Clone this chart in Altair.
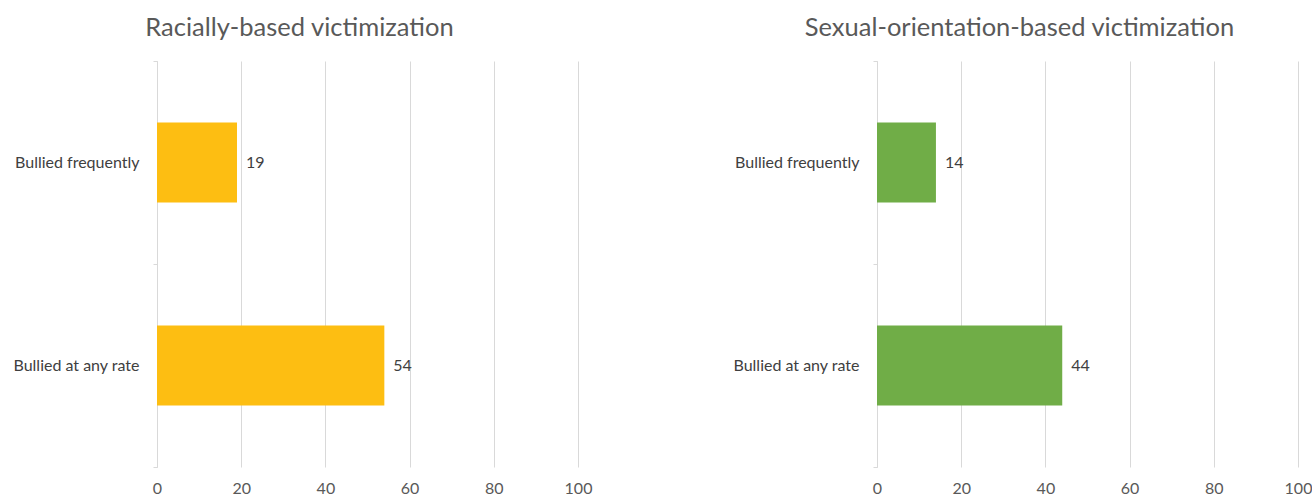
import altair as alt
import pandas as pd

# Survey categories and percentages for each type of victimization
categories = ["Bullied frequently", "Bullied at any rate"]
racial_values = [19, 54]
sexual_values = [14, 44]

tick_values = [0, 20, 40, 60, 80, 100]

FONT = "Lato"


def panel(values, title, color):
    df = pd.DataFrame({"category": categories, "value": values})
    base = alt.Chart(df).encode(
        y=alt.Y(
            "category:N",
            sort=categories,
            scale=alt.Scale(paddingInner=0, paddingOuter=0),
            axis=alt.Axis(
                title=None,
                grid=False,
                domain=True,
                domainColor="#d9d9d9",
                ticks=True,
                tickColor="#d9d9d9",
                tickSize=4,
                tickBand="extent",
                labelPadding=14,
                labelFontSize=16,
                labelColor="#404040",
                labelFont=FONT,
                minExtent=150,
                maxExtent=150,
            ),
        ),
        x=alt.X(
            "value:Q",
            scale=alt.Scale(domain=[0, 100]),
            axis=alt.Axis(
                title=None,
                values=tick_values,
                domain=False,
                ticks=False,
                grid=True,
                gridColor="#d9d9d9",
                labelFlush=False,
                labelPadding=13,
                labelFontSize=16,
                labelColor="#595959",
                labelFont=FONT,
            ),
        ),
    )
    bars = base.mark_bar(color=color, height={"band": 0.394})
    labels = base.mark_text(
        align="left", baseline="middle", dx=9, fontSize=16, color="#404040", font=FONT
    ).encode(text="value:Q")
    return (bars + labels).properties(
        width=421,
        height=406,
        title=alt.TitleParams(
            title,
            anchor="middle",
            frame="bounds",
            fontSize=25.5,
            font=FONT,
            fontWeight="normal",
            color="#595959",
            offset=12,
        ),
    )


left = panel(racial_values, "Racially-based victimization", "#FDBE12")
right = panel(sexual_values, "Sexual-orientation-based victimization", "#70AD47")

chart = (
    alt.hconcat(left, right, spacing=135)
    .properties(padding={"left": 7, "top": 15, "right": 0, "bottom": 0})
    .configure_view(strokeWidth=0)
)

chart.save("out.html", embed_options={"renderer": "svg", "actions": False})
